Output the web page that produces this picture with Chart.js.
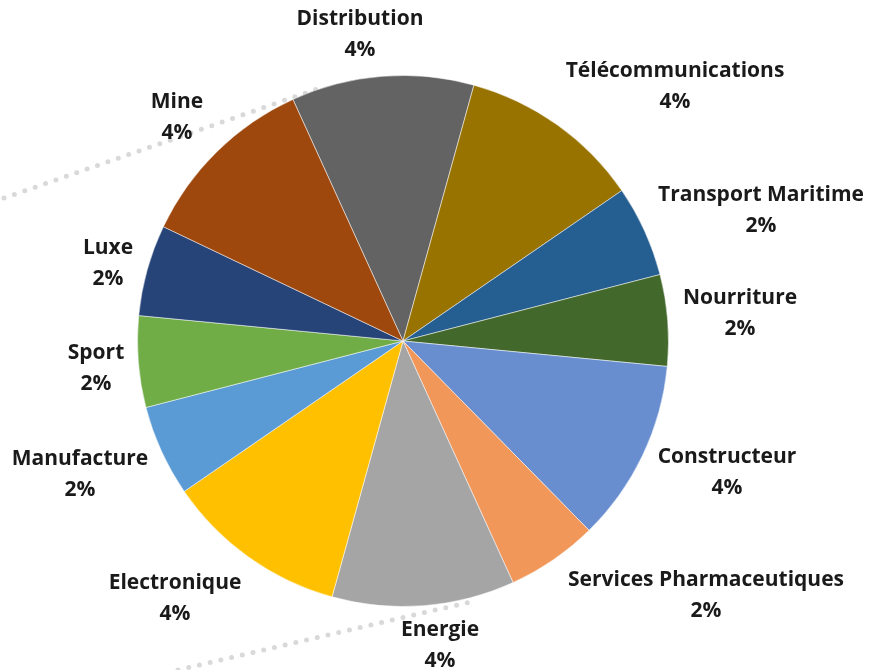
<!DOCTYPE html>
<html>
<head>
<meta charset="utf-8">
<script src="https://cdn.jsdelivr.net/npm/chart.js@4.4.1/dist/chart.umd.min.js"></script>
<style>
  html, body { margin: 0; padding: 0; background: #fff; }
  #wrap { width: 869px; height: 670px; position: relative; }
</style>
</head>
<body>
<div id="wrap"><canvas id="pie"></canvas></div>
<script>
/* ── Data ─────────────────────────────────────────────── */
const sectors = [
  "Distribution", "Télécommunications", "Transport Maritime", "Nourriture",
  "Constructeur", "Services Pharmaceutiques", "Energie", "Electronique",
  "Manufacture", "Sport", "Luxe", "Mine",
];
const shares = [4, 4, 2, 2, 4, 2, 4, 4, 2, 2, 2, 4];
const shareLabels = ["4%", "4%", "2%", "2%", "4%", "2%", "4%", "4%", "2%", "2%", "2%", "4%"];

/* ── Styles ───────────────────────────────────────────── */
const sliceColours = [
  "#636363", "#997300", "#255E91", "#43682B",
  "#698ED0", "#F1975A", "#A5A5A5", "#FFC000",
  "#5B9BD5", "#70AD47", "#264478", "#9E480E",
];
// label anchor (centre of the two text lines) relative to the pie centre
const labelOffsets = [
  [-43, -306], [272, -254], [358, -130], [337, -27],
  [324, 132], [303, 255], [37, 305], [-228, 258],
  [-323, 134], [-307, 28], [-295, -77], [-226, -223],
];

/* ── Plugins ──────────────────────────────────────────── */
// dotted callout guides behind the pie
const dottedGuides = {
  id: "dottedGuides",
  beforeDatasetsDraw(chart) {
    const ctx = chart.ctx;
    ctx.save();
    ctx.strokeStyle = "#d9d9d9";
    ctx.lineWidth = 5;
    ctx.lineCap = "round";
    ctx.setLineDash([0, 11]);
    ctx.beginPath();
    ctx.moveTo(4, 198);
    ctx.lineTo(320, 88);
    ctx.moveTo(178, 670);
    ctx.lineTo(470, 602);
    ctx.stroke();
    ctx.restore();
  },
};

const outsideLabels = {
  id: "outsideLabels",
  afterDatasetsDraw(chart) {
    const ctx = chart.ctx;
    const arc = chart.getDatasetMeta(0).data[0];
    const cx = arc.x, cy = arc.y;
    ctx.save();
    ctx.fillStyle = "#1a1a1a";
    ctx.font = "bold 21px 'Open Sans', sans-serif";
    ctx.textAlign = "center";
    ctx.textBaseline = "middle";
    sectors.forEach((name, i) => {
      const [dx, dy] = labelOffsets[i];
      ctx.fillText(name, cx + dx, cy + dy - 15.5);
      ctx.fillText(shareLabels[i], cx + dx, cy + dy + 15.5);
    });
    ctx.restore();
  },
};

/* ── Chart ────────────────────────────────────────────── */
new Chart(document.getElementById("pie"), {
  type: "pie",
  data: {
    labels: sectors,
    datasets: [{
      data: shares,
      backgroundColor: sliceColours,
      borderColor: "rgba(255,255,255,0.5)",
      borderWidth: 1,
    }],
  },
  options: {
    responsive: true,
    maintainAspectRatio: false,
    animation: false,
    rotation: -24.5,
    layout: { padding: { left: 137, right: 200, top: 75, bottom: 63 } },
    plugins: {
      legend: { display: false },
      tooltip: { enabled: false },
    },
  },
  plugins: [dottedGuides, outsideLabels],
});
</script>
</body>
</html>
